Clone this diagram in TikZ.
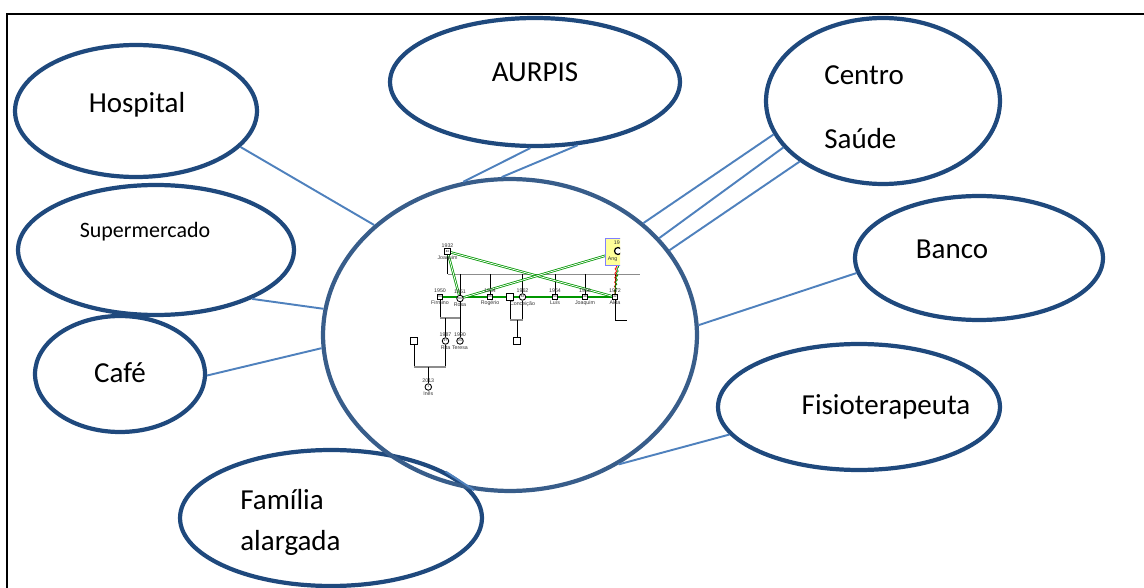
\documentclass[tikz,border=0pt]{standalone}
\usepackage{fontspec}
\setmainfont{Carlito}
\newfontfamily\genofont{Liberation Sans}
\usetikzlibrary{shapes.geometric,backgrounds,decorations.pathmorphing}

\definecolor{rimdark}{RGB}{31,73,125}
\definecolor{rimmid}{RGB}{56,93,138}
\definecolor{linkblue}{RGB}{79,129,189}
\definecolor{genogreen}{RGB}{0,150,0}
\definecolor{boxyellow}{RGB}{255,255,153}
\definecolor{boxblue}{RGB}{128,128,255}

\tikzset{
  bubble/.style={ellipse, draw=rimdark, line width=2.4pt, inner sep=0pt},
  word/.style={font=\fontsize{16.5}{20}\selectfont, inner sep=0pt},
  link/.style={draw=linkblue, line width=1.1pt},
  male/.style={rectangle, draw, fill=white, line width=0.5pt, minimum size=0.11cm,
    inner sep=0pt, font=\genofont\fontsize{1.6}{1.6}\selectfont},
  maleplain/.style={rectangle, draw, fill=white, line width=0.6pt, minimum size=0.14cm, inner sep=0pt},
  female/.style={circle, draw, fill=white, line width=0.5pt, minimum size=0.13cm,
    inner sep=0pt, font=\genofont\fontsize{1.6}{1.6}\selectfont},
  gtxt/.style={font=\genofont\fontsize{3}{3}\selectfont, text=black!80, inner sep=0.3pt},
  kin/.style={draw=black, line width=0.5pt},
  sibline/.style={draw=black!45, line width=0.7pt},
  bond/.style={draw=genogreen, line width=0.6pt},
  closebond/.style={draw=genogreen, line width=0.45pt, double=white, double distance=0.45pt},
  rift/.style={line width=0.4pt, decorate, decoration={zigzag, amplitude=0.5pt, segment length=2.5pt}},
}

\begin{document}
\begin{tikzpicture}[x=0.02cm, y=-0.02cm]
\useasboundingbox (0,0) rectangle (1144,588);

% page frame
\draw[line width=1.7pt] (7,590) -- (7,14) -- (1146,14);

% the bubbles
\node[bubble, minimum width=4.84cm, minimum height=2.64cm] (hosp) at (136,111) {};
\node[bubble, minimum width=5.8cm, minimum height=2.56cm] (aurpis) at (535,82) {};
\node[bubble, minimum width=4.68cm, minimum height=3.32cm] (centro) at (883,101) {};
\node[bubble, minimum width=5.52cm, minimum height=2.6cm] (superm) at (156,250) {};
\node[bubble, minimum width=4.96cm, minimum height=2.48cm] (banco) at (979,258) {};
\node[bubble, minimum width=3.4cm, minimum height=2.32cm] (cafe) at (120,374) {};
\node[bubble, minimum width=5.64cm, minimum height=2.52cm] (fisio) at (859,407) {};
\node[bubble, minimum width=6.04cm, minimum height=2.72cm] (familia) at (331,518) {};
\node[bubble, draw=rimmid, minimum width=7.48cm, minimum height=6.24cm] (centre) at (510,335) {};

% texts
\node[word] (hospT) at (137,105) {Hospital};
\node[word] (aurpisT) at (535,72) {AURPIS};
\node[word, align=left, anchor=west, font=\fontsize{16.5}{36.4}\selectfont] (centroT) at (824,107) {Centro\\Saúde};
\node[word, font=\fontsize{12.5}{15}\selectfont] (supermT) at (145,232) {Supermercado};
\node[word] (bancoT) at (952,249) {Banco};
\node[word] (cafeT) at (120,373) {Café};
\node[word] (fisioT) at (886,407) {Fisioterapeuta};
\node[word, align=left, anchor=west, font=\fontsize{16.5}{23.3}\selectfont] (familiaT) at (240,522) {Família\\alargada};

% connectors
\draw[link] (hosp.-19.6) -- (centre.141.7);
\draw[link] (aurpis.-94) -- (centre.107.8);
\draw[link] (aurpis.-56) -- (centre.93);
\draw[link] (centro.-163.3) -- (centre.40);
\draw[link] (centro.-155) -- (centre.33.7);
\draw[link] (centro.-144.3) -- (centre.28.3);
\draw[link] (superm.-27.3) -- (centre.172.9);
\draw[link] (cafe.-1.3) -- (centre.-176.3);
\draw[link] (banco.-173.4) -- (centre.3.7);
\draw[link] (fisio.-168) -- (centre.-50.3);
\draw[link] (familia.22) -- (centre.-103);

% genogram in the middle
\begin{scope}
\clip (395,230) rectangle (620,400);

% generation 1
\node[male, label={[gtxt]above:1932}, label={[gtxt]below:Joaquim}] (joaq) at (447.5,251.5) {82};
\node[rectangle, draw=boxblue, fill=boxyellow, line width=0.5pt, minimum width=0.54cm,
  minimum height=0.54cm, inner sep=0pt] (angbox) at (619,251.7) {};
\node[female, minimum size=0.14cm, line width=0.7pt] (ang) at (618,251) {};
\node[gtxt, anchor=west] (angY) at (613,242.5) {19};
\node[gtxt, anchor=west] (angN) at (607,259.5) {Ang};

% generation 2
\node[male, label={[gtxt]above:1950}, label={[gtxt]below:Firmino}] (firm) at (440,297) {64};
\node[female, label={[gtxt]above:1951}, label={[gtxt]below:Rosa}] (rosa) at (460,298.5) {63};
\node[male, label={[gtxt]above:1954}, label={[gtxt]below:Rogério}] (roger) at (490,297) {60};
\node[maleplain] (concp) at (510,297) {};
\node[female, label={[gtxt]above:1962}, label={[gtxt]below:Conceição}] (conc) at (522.5,297) {52};
\node[male, label={[gtxt]above:1964}, label={[gtxt]below:Luís}] (luis) at (555,297) {50};
\node[male, label={[gtxt]above:1966}, label={[gtxt]below:Joaquim}] (joaqb) at (585,297) {48};
\node[male, label={[gtxt]above:1972}, label={[gtxt]below:Alda}] (alda) at (615,297) {42};

% generation 3
\node[maleplain] (ritap) at (414,341) {};
\node[female, label={[gtxt]above:1987}, label={[gtxt]below:Rita}] (rita) at (445.5,341) {27};
\node[female, label={[gtxt]above:1990}, label={[gtxt]below:Teresa}] (teresa) at (460,341) {24};
\node[maleplain] (conck) at (517.3,341) {};

% generation 4
\node[female, label={[gtxt]above:2013}, label={[gtxt]below:Inês}] (ines) at (428.3,387) {1};

\begin{pgfonlayer}{background}
\coordinate (sibL) at (447.5,274.5);
\coordinate (sibR) at (640,274.5);
\coordinate (frow) at (450,318);
\coordinate (crow) at (515,320);
\coordinate (rrow) at (430,367);
\draw[sibline] (sibL) -- (sibR);
\draw[kin] (joaq.south) -- (sibL);
\foreach \kid in {rosa,roger,conc,luis,joaqb,alda}
  \draw[kin] (\kid.north) -- (\kid.north |- sibL);
\draw[bond] (firm) -- (alda);
% Firmino and Rosa
\draw[kin] (firm.south) -- (firm.south |- frow) (rosa.south) -- (rosa.south |- frow);
\draw[sibline] (firm.south |- frow) -- (rosa.south |- frow);
\draw[kin] (rita.north) -- (rita.north |- frow) (teresa.north) -- (teresa.north |- frow);
% Conceição
\draw[kin] (concp.south) -- (concp.south |- crow) (conc.south) -- (conc.south |- crow);
\draw[sibline] (concp.south |- crow) -- (conc.south |- crow);
\draw[kin] (conck.north) -- (conck.north |- crow);
% Rita
\draw[kin] (ritap.south) -- (ritap.south |- rrow) (rita.south) -- (rita.south |- rrow);
\draw[sibline] (ritap.south |- rrow) -- (rita.south |- rrow);
\draw[kin] (ines.north) -- (ines.north |- rrow);
% Alda
\draw[kin] (alda.south) -- (alda.south |- crow) -- ++(12,0);
% emotional ties
\draw[closebond] (joaq) -- (rosa);
\draw[closebond] (joaq) -- (alda);
\draw[closebond] (angbox) -- (rosa);
\draw[rift, red] (angbox.south) ++(-3,0) -- (alda.north);
\draw[rift, genogreen] (angbox.south) ++(-1,0) -- (alda.north);
\end{pgfonlayer}
\end{scope}
\end{tikzpicture}
\end{document}
